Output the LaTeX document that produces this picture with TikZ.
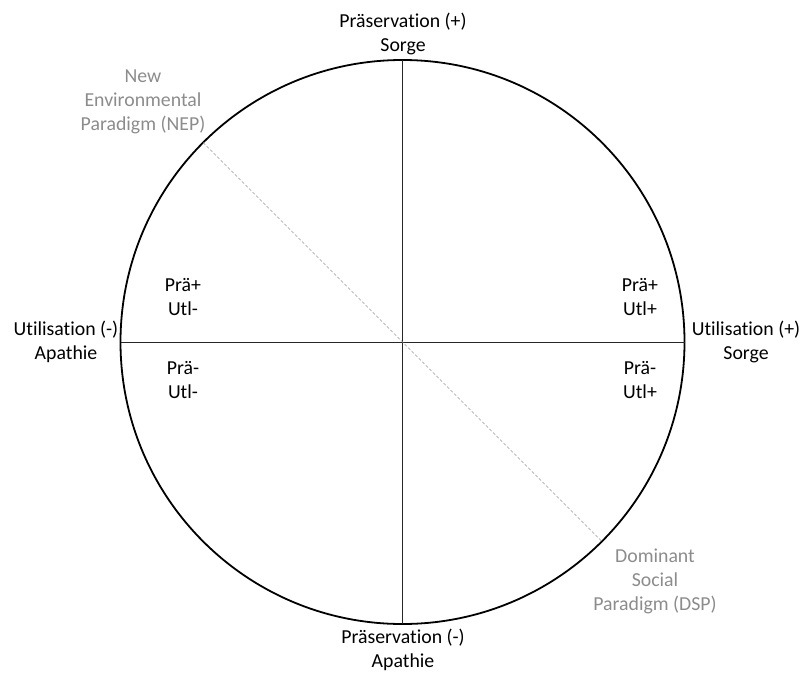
\documentclass[tikz,border=0pt]{standalone}
\usepackage{fontspec}
\setmainfont[Ligatures=NoCommon]{Carlito}
\begin{document}
\begin{tikzpicture}[x=1pt,y=-1pt,
  lbl/.style={align=center,inner sep=0pt,font=\fontsize{19.8}{24}\selectfont},
  para/.style={lbl,text=black!45},
  axis/.style={draw=black!85,line width=1pt},
  ring/.style={draw=black,line width=1.8pt},
  paradigm/.style={draw=black!40,line width=0.7pt,dash pattern=on 3pt off 2pt}]
\useasboundingbox (0,0) rectangle (802,677);
\coordinate (c) at (402.5,342);
\draw[ring] (c) circle[radius=282];
\coordinate (top) at (402.5,60);
\coordinate (bot) at (402.5,624);
\coordinate (lft) at (120.5,342);
\coordinate (rgt) at (684.5,342);
% diameter along the NEP--DSP direction (y axis points down)
\path (c) ++(-135:282) coordinate (nw);
\path (c) ++(45:282) coordinate (se);
\draw[axis] (top) -- (bot);
\draw[axis] (lft) -- (rgt);
\draw[paradigm] (nw) -- (se);
% axis labels
\node[lbl] (pplus) at (403,34) {Präservation (+)\\Sorge};
\node[lbl] (pminus) at (403,650) {Präservation (-)\\Apathie};
\node[lbl] (uminus) at (66,342) {Utilisation (-)\\Apathie};
\node[lbl] (uplus) at (746,342) {Utilisation (+)\\Sorge};
% paradigm labels
\node[para] (nep) at (143,102) {New\\Environmental\\Paradigm (NEP)};
\node[para] (dsp) at (655,581) {Dominant\\Social\\Paradigm (DSP)};
% quadrant labels
\node[lbl] (q1) at (183,297) {Prä+\\Utl-};
\node[lbl] (q2) at (183,380) {Prä-\\Utl-};
\node[lbl] (q3) at (640,297) {Prä+\\Utl+};
\node[lbl] (q4) at (640,380) {Prä-\\Utl+};
\end{tikzpicture}
\end{document}
